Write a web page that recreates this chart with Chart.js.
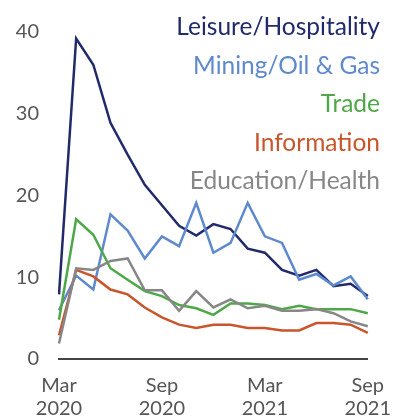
<!DOCTYPE html>
<html><head><meta charset="utf-8">
<script src="https://cdn.jsdelivr.net/npm/chart.js@4"></script>
<style>
html,body{margin:0;padding:0;background:#fff;}
#wrap{position:relative;width:406px;height:419px;}
#legend{position:absolute;right:26px;top:7px;text-align:right;font-family:Lato,"Open Sans",sans-serif;font-size:24.5px;line-height:38.5px;}
</style></head>
<body><div id="wrap"><canvas id="c" width="406" height="419"></canvas><div id="legend"></div></div>
<script>
const months = ["Mar 2020","Apr 2020","May 2020","Jun 2020","Jul 2020","Aug 2020","Sep 2020","Oct 2020","Nov 2020","Dec 2020","Jan 2021","Feb 2021","Mar 2021","Apr 2021","May 2021","Jun 2021","Jul 2021","Aug 2021","Sep 2021"];
const tickLabels = {0:["Mar","2020"],6:["Sep","2020"],12:["Mar","2021"],18:["Sep","2021"]};
const seriesNames = ["Leisure/Hospitality","Mining/Oil & Gas","Trade","Information","Education/Health"];
const seriesColors = ["#212a6b","#5e89cc","#4ea847","#c9552c","#878787"];
const leisure = [7.9,39.2,36.0,28.9,25.0,21.3,18.8,16.3,15.1,16.5,15.9,13.5,13.0,10.9,10.2,10.9,8.9,9.2,7.7];
const mining = [6.0,10.2,8.5,17.7,15.7,12.3,15.0,13.8,19.1,13.0,14.2,19.1,15.0,14.2,9.7,10.4,9.0,10.1,7.3];
const trade = [4.8,17.1,15.2,11.1,9.7,8.3,7.7,6.6,6.2,5.4,6.8,6.8,6.6,6.1,6.5,6.1,6.1,6.1,5.6];
const information = [2.9,10.9,10.1,8.5,7.9,6.3,5.1,4.2,3.8,4.2,4.2,3.8,3.8,3.5,3.5,4.4,4.4,4.2,3.2];
const education = [1.9,11.1,10.9,12.0,12.3,8.4,8.4,5.9,8.3,6.3,7.3,6.2,6.5,5.9,5.9,6.1,5.6,4.6,4.0];
const yTicks = [0,10,20,30,40];

const allSeries = [leisure,mining,trade,information,education];
const legend = document.getElementById('legend');
seriesNames.forEach((n,i)=>{const d=document.createElement('div');d.textContent=n;d.style.color=seriesColors[i];legend.appendChild(d);});

const fontFam = 'Lato, "Open Sans", sans-serif';
new Chart(document.getElementById('c'),{
  type:'line',
  data:{labels:months,datasets:allSeries.map((d,i)=>({label:seriesNames[i],data:d,borderColor:seriesColors[i],backgroundColor:seriesColors[i],borderWidth:2.5,pointRadius:0,tension:0,fill:false})).reverse()},
  options:{
    responsive:false,animation:false,
    layout:{padding:{top:23,right:23,left:0,bottom:0}},
    plugins:{legend:{display:false},tooltip:{enabled:false}},
    scales:{
      x:{
        grid:{display:false,drawTicks:false},
        border:{display:true,color:'#444',width:2},
        offset:false,
        ticks:{autoSkip:false,maxRotation:0,padding:15,color:'#555',font:{family:fontFam,size:20,lineHeight:1.15},
          callback:(v,i)=>tickLabels[i]||''},
        afterFit:(s)=>{s.height=60;}
      },
      y:{
        min:0,max:40,
        grid:{display:false,drawTicks:false},
        border:{display:false},
        afterBuildTicks:(s)=>{s.ticks=yTicks.map(v=>({value:v}));},
        ticks:{padding:20,color:'#555',font:{family:fontFam,size:20}},
        afterFit:(s)=>{s.width=59;}
      }
    }
  }
});
</script></body></html>
